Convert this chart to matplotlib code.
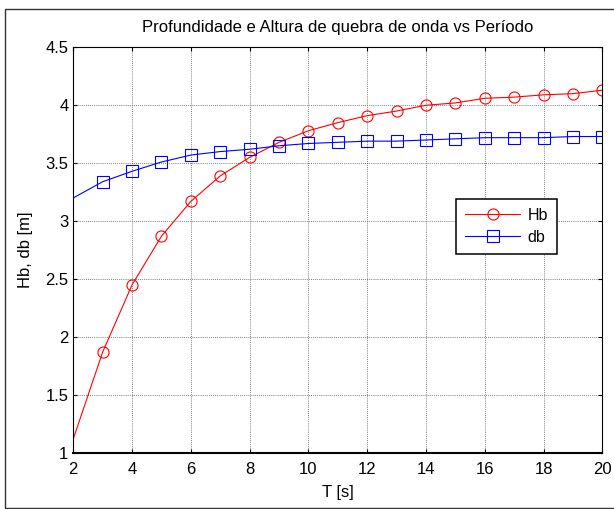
import matplotlib
matplotlib.use("Agg")
import matplotlib.pyplot as plt
from matplotlib.patches import Rectangle

# DATA #
T = [2, 3, 4, 5, 6, 7, 8, 9, 10, 11, 12, 13, 14, 15, 16, 17, 18, 19, 20]
Hb = [1.12, 1.87, 2.45, 2.87, 3.17, 3.39, 3.55, 3.68, 3.78, 3.85, 3.91,
      3.95, 4.00, 4.02, 4.06, 4.07, 4.09, 4.10, 4.13]
db = [3.20, 3.34, 3.43, 3.51, 3.57, 3.60, 3.62, 3.65, 3.67, 3.68, 3.69,
      3.69, 3.70, 3.71, 3.72, 3.72, 3.72, 3.73, 3.73]
xticks = [2, 4, 6, 8, 10, 12, 14, 16, 18, 20]
yticks = [1, 1.5, 2, 2.5, 3, 3.5, 4, 4.5]
ytick_labels = ["1", "1.5", "2", "2.5", "3", "3.5", "4", "4.5"]
# END OF DATA #

plt.rcParams['font.family'] = ['Liberation Sans', 'DejaVu Sans']

fig = plt.figure(figsize=(6.14, 5.09), dpi=100)
ax = fig.add_axes([0.1194, 0.1106, 0.8616, 0.7964])

# outer frame (matlab figure border)
fig.patches.append(Rectangle((5 / 614, 1 / 509), 1.0, 499 / 509, transform=fig.transFigure,
                             fill=False, edgecolor='#333333', linewidth=1.0))

ax.plot(T, Hb, color='red', linewidth=0.8, marker='o', markersize=8,
        markerfacecolor='none', markeredgewidth=0.8, markevery=range(1, len(T)), label='Hb')
ax.plot(T, db, color='blue', linewidth=0.8, marker='s', markersize=8,
        markerfacecolor='none', markeredgewidth=0.8, markevery=range(1, len(T)), label='db')

ax.set_xlim(2, 20)
ax.set_ylim(1, 4.5)
ax.set_xticks(xticks)
ax.set_yticks(yticks)
ax.set_yticklabels(ytick_labels)
ax.grid(True, color='#555555', linestyle=(0, (1, 1.5)), linewidth=0.6)
ax.tick_params(direction='in', length=3, width=0.8, top=True, right=True,
               labelsize=12, colors='black')
ax.tick_params(axis='x', pad=6.5)
ax.tick_params(axis='y', pad=3.5)
for s in ax.spines.values():
    s.set_linewidth(0.8)
ax.spines['bottom'].set_linewidth(1.5)

ax.text(0.5, 1.037, 'Profundidade e Altura de quebra de onda vs Período', fontsize=12,
        ha='center', va='baseline', transform=ax.transAxes)
ax.set_xlabel('T [s]', fontsize=12)
ax.set_ylabel('Hb, db [m]', fontsize=12)
ax.xaxis.set_label_coords(0.5, -0.08)
ax.yaxis.set_label_coords(-0.076, 0.5)

leg = ax.legend(loc='upper left', bbox_to_anchor=(0.723, 0.626), borderaxespad=0, fontsize=11.5,
                handlelength=3.5, handletextpad=0.45, borderpad=0.55, labelspacing=0.45,
                fancybox=False, edgecolor='black', framealpha=1)
leg.get_frame().set_linewidth(1.1)

fig.savefig('out.png', dpi=100)
